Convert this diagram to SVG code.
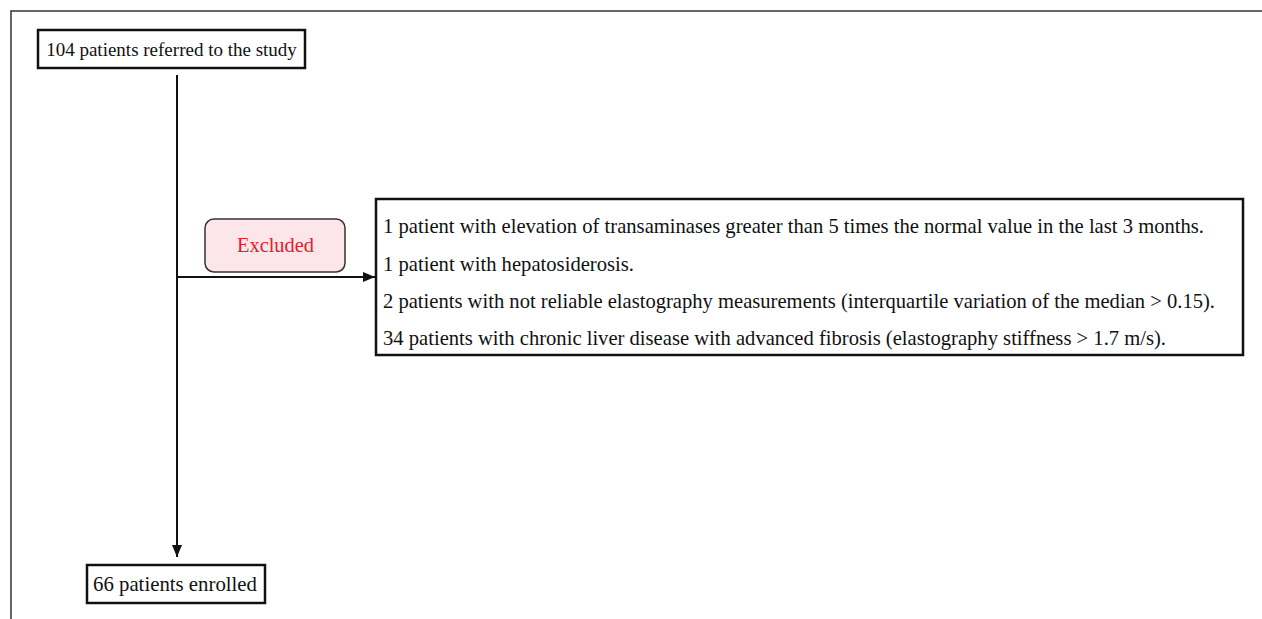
<svg xmlns="http://www.w3.org/2000/svg" width="1262" height="619" viewBox="0 0 1262 619">
<style>
.t{font-family:"Liberation Serif","Times New Roman",serif;font-size:21.8px;fill:#111}
.box{fill:#fff;stroke:#111;stroke-width:2.5}
.ln{stroke:#111;stroke-width:2;fill:none}
</style>
<defs>
<marker id="ah" viewBox="0 0 12 10" refX="12" refY="5" markerWidth="6" markerHeight="5" orient="auto" markerUnits="strokeWidth">
<path d="M0,0 L12,5 L0,10 z" fill="#111"/>
</marker>
</defs>
<rect width="1262" height="619" fill="#fff"/>
<path d="M11,619 L11,11 L1262,11" fill="none" stroke="#333" stroke-width="1.5"/>
<g id="connectors">
<line class="ln" x1="177" y1="75" x2="177" y2="557" marker-end="url(#ah)"/>
<line class="ln" x1="177" y1="277" x2="375" y2="277" marker-end="url(#ah)"/>
</g>
<g id="start">
<rect class="box" x="38" y="30" width="267" height="38"/>
<text class="t" x="171.5" y="55.5" text-anchor="middle" style="font-size:19px">104 patients referred to the study</text>
</g>
<g id="excluded">
<rect x="205" y="219" width="140" height="53" rx="9" fill="#fce6ea" stroke="#333" stroke-width="1.5"/>
<text class="t" x="237" y="252" textLength="77" lengthAdjust="spacingAndGlyphs" style="fill:#e0202a">Excluded</text>
</g>
<g id="reasons">
<rect class="box" x="376" y="199" width="867" height="156"/>
<text class="t" x="383" y="233" textLength="821" lengthAdjust="spacingAndGlyphs">1 patient with elevation of transaminases greater than 5 times the normal value in the last 3 months.</text>
<text class="t" x="383" y="271" textLength="251" lengthAdjust="spacingAndGlyphs">1 patient with hepatosiderosis.</text>
<text class="t" x="383" y="308" textLength="832" lengthAdjust="spacingAndGlyphs">2 patients with not reliable elastography measurements (interquartile variation of the median &gt; 0.15).</text>
<text class="t" x="383" y="345" textLength="783" lengthAdjust="spacingAndGlyphs">34 patients with chronic liver disease with advanced fibrosis (elastography stiffness &gt; 1.7 m/s).</text>
</g>
<g id="enrolled">
<rect class="box" x="87" y="565" width="178" height="38"/>
<text class="t" x="93" y="591" textLength="164" lengthAdjust="spacingAndGlyphs">66 patients enrolled</text>
</g>
</svg>
